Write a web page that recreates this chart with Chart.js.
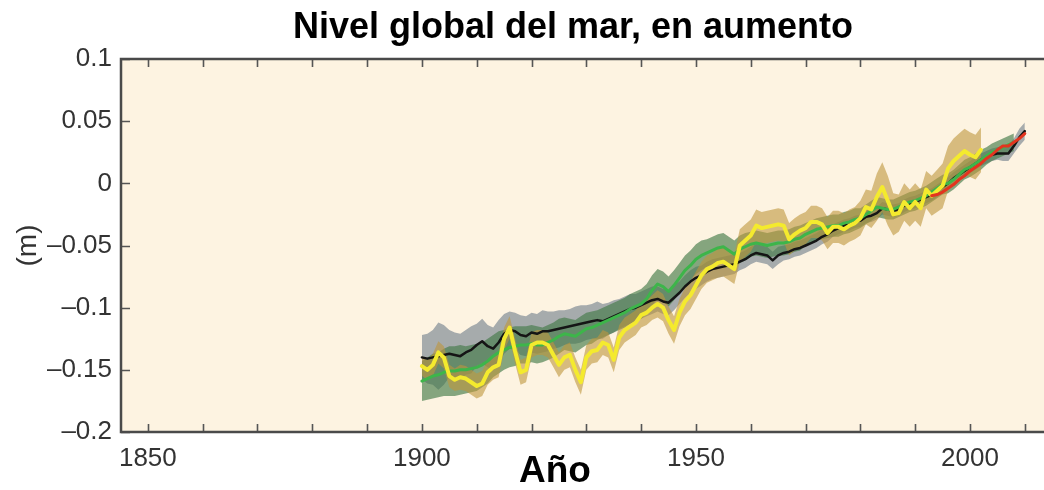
<!DOCTYPE html>
<html>
<head>
<meta charset="utf-8">
<title>Nivel global del mar, en aumento</title>
<script src="https://cdn.jsdelivr.net/npm/chart.js@4/dist/chart.umd.min.js"></script>
<style>
  html, body { margin: 0; padding: 0; background: #ffffff; }
  canvas { display: block; }
</style>
</head>
<body>
<canvas id="chart" width="1044" height="490"></canvas>
<script>
// ---- Sea-level reconstructions (m), one value per year ----
const blackStart = 1900;
const blackSeries = [
  -0.140,-0.141,-0.140,-0.139,-0.138,-0.137,-0.138,-0.139,-0.136,-0.134,
  -0.130,-0.127,-0.131,-0.133,-0.128,-0.121,-0.118,-0.119,-0.122,-0.123,
  -0.120,-0.121,-0.119,-0.119,-0.118,-0.117,-0.116,-0.115,-0.114,-0.113,
  -0.112,-0.111,-0.110,-0.111,-0.109,-0.107,-0.105,-0.103,-0.101,-0.100,
  -0.098,-0.096,-0.094,-0.093,-0.095,-0.096,-0.092,-0.088,-0.083,-0.079,
  -0.076,-0.074,-0.071,-0.069,-0.068,-0.067,-0.066,-0.065,-0.063,-0.061,
  -0.058,-0.056,-0.057,-0.058,-0.062,-0.058,-0.056,-0.055,-0.053,-0.052,
  -0.050,-0.048,-0.046,-0.043,-0.041,-0.038,-0.036,-0.034,-0.033,-0.031,
  -0.030,-0.027,-0.026,-0.024,-0.020,-0.021,-0.022,-0.021,-0.018,-0.016,
  -0.015,-0.013,-0.011,-0.009,-0.006,-0.003, 0.000, 0.004, 0.007, 0.010,
   0.013, 0.016, 0.019, 0.021, 0.023, 0.024, 0.024, 0.024, 0.030, 0.037, 0.042
];
const blackUncertainty = [
  0.018,0.020,0.022,0.027,0.024,0.019,0.018,0.018,0.018,0.019,
  0.017,0.018,0.017,0.017,0.018,0.016,0.015,0.015,0.016,0.016,
  0.016,0.016,0.017,0.016,0.015,0.015,0.014,0.014,0.015,0.015,
  0.014,0.014,0.015,0.014,0.013,0.013,0.012,0.012,0.012,0.011,
  0.011,0.011,0.011,0.010,0.010,0.010,0.010,0.009,0.009,0.009,
  0.009,0.008,0.008,0.008,0.008,0.008,0.008,0.008,0.007,0.007,
  0.007,0.007,0.007,0.007,0.007,0.007,0.006,0.006,0.006,0.006,
  0.006,0.006,0.006,0.006,0.006,0.005,0.005,0.005,0.005,0.005,
  0.005,0.005,0.005,0.005,0.005,0.005,0.005,0.005,0.005,0.005,
  0.005,0.005,0.005,0.005,0.005,0.005,0.005,0.005,0.005,0.005,
  0.005,0.005,0.005,0.005,0.005,0.005,0.006,0.006,0.006,0.007,0.007
];

const greenStart = 1900;
const greenSeries = [
  -0.159,-0.157,-0.155,-0.154,-0.152,-0.151,-0.151,-0.150,-0.150,-0.149,
  -0.148,-0.146,-0.143,-0.139,-0.136,-0.134,-0.132,-0.131,-0.130,-0.130,
  -0.129,-0.130,-0.130,-0.128,-0.126,-0.123,-0.121,-0.122,-0.123,-0.120,
  -0.117,-0.116,-0.114,-0.112,-0.110,-0.108,-0.106,-0.104,-0.101,-0.099,
  -0.097,-0.093,-0.086,-0.081,-0.083,-0.087,-0.082,-0.076,-0.070,-0.066,
  -0.061,-0.058,-0.056,-0.054,-0.052,-0.051,-0.054,-0.057,-0.053,-0.051,
  -0.049,-0.048,-0.049,-0.050,-0.049,-0.048,-0.048,-0.047,-0.045,-0.044,
  -0.041,-0.039,-0.037,-0.036,-0.035,-0.034,-0.034,-0.032,-0.031,-0.029,
  -0.028,-0.025,-0.022,-0.019,-0.020,-0.021,-0.021,-0.019,-0.017,-0.015,
  -0.014,-0.012,-0.010,-0.007,-0.004,-0.001, 0.000, 0.003, 0.007, 0.011,
   0.013, 0.016, 0.019, 0.022, 0.025, 0.027, 0.029, 0.031, 0.033
];
const greenUncertainty = [
  0.016,0.017,0.018,0.018,0.019,0.020,0.020,0.020,0.019,0.019,
  0.019,0.018,0.018,0.017,0.017,0.016,0.016,0.016,0.015,0.015,
  0.015,0.015,0.014,0.014,0.014,0.014,0.013,0.013,0.013,0.013,
  0.013,0.013,0.012,0.012,0.012,0.012,0.012,0.012,0.012,0.012,
  0.012,0.012,0.012,0.012,0.012,0.012,0.012,0.012,0.012,0.012,
  0.012,0.012,0.011,0.011,0.011,0.011,0.011,0.011,0.011,0.011,
  0.010,0.010,0.010,0.010,0.010,0.010,0.010,0.010,0.010,0.010,
  0.009,0.009,0.009,0.009,0.009,0.009,0.009,0.009,0.009,0.009,
  0.008,0.008,0.008,0.008,0.008,0.008,0.008,0.008,0.008,0.008,
  0.008,0.008,0.008,0.008,0.008,0.008,0.008,0.008,0.008,0.008,
  0.008,0.008,0.008,0.007,0.007,0.007,0.007,0.007,0.007
];

const yellowStart = 1900;
const yellowSeries = [
  -0.147,-0.150,-0.146,-0.136,-0.140,-0.155,-0.158,-0.156,-0.157,-0.160,
  -0.163,-0.161,-0.152,-0.148,-0.146,-0.125,-0.116,-0.135,-0.152,-0.150,
  -0.130,-0.128,-0.128,-0.130,-0.138,-0.146,-0.140,-0.138,-0.150,-0.160,
  -0.140,-0.135,-0.134,-0.128,-0.130,-0.142,-0.124,-0.118,-0.115,-0.112,
  -0.106,-0.104,-0.100,-0.097,-0.100,-0.110,-0.118,-0.104,-0.095,-0.090,
  -0.082,-0.074,-0.069,-0.067,-0.064,-0.063,-0.066,-0.069,-0.050,-0.046,
  -0.042,-0.034,-0.036,-0.035,-0.034,-0.033,-0.034,-0.045,-0.041,-0.038,
  -0.036,-0.031,-0.031,-0.033,-0.040,-0.035,-0.035,-0.037,-0.034,-0.032,
  -0.028,-0.019,-0.021,-0.011,-0.003,-0.014,-0.025,-0.024,-0.015,-0.020,
  -0.015,-0.020,-0.005,-0.010,-0.006,-0.002, 0.012, 0.018, 0.022, 0.026,
   0.023, 0.021, 0.027
];
const yellowUncertainty = [
  0.008,0.008,0.009,0.009,0.009,0.009,0.009,0.010,0.010,0.010,
  0.010,0.010,0.010,0.010,0.010,0.009,0.009,0.010,0.010,0.010,
  0.010,0.010,0.010,0.010,0.010,0.010,0.010,0.010,0.010,0.010,
  0.010,0.010,0.010,0.010,0.010,0.010,0.010,0.010,0.010,0.010,
  0.010,0.010,0.010,0.011,0.011,0.011,0.011,0.011,0.011,0.011,
  0.011,0.011,0.011,0.011,0.012,0.012,0.012,0.012,0.013,0.013,
  0.013,0.013,0.013,0.013,0.013,0.013,0.013,0.013,0.013,0.013,
  0.013,0.013,0.013,0.013,0.013,0.013,0.013,0.013,0.013,0.013,
  0.014,0.014,0.015,0.019,0.020,0.020,0.017,0.015,0.015,0.015,
  0.015,0.015,0.015,0.016,0.017,0.018,0.018,0.018,0.018,0.018,
  0.018,0.018,0.018
];

// Satellite altimetry
const redStart = 1993;
const redSeries = [
  -0.010,-0.009,-0.007,-0.004,-0.001, 0.003, 0.006, 0.010, 0.013, 0.016,
   0.020, 0.023, 0.027, 0.030, 0.030, 0.033, 0.036, 0.040
];

// ---- Axes ----
const xMin = 1845.1, xMax = 2013.5;
const xTickYears = [1850,1860,1870,1880,1890,1900,1910,1920,1930,1940,1950,1960,1970,1980,1990,2000,2010];
const xLabelYears = [1850, 1900, 1950, 2000];
const yTickValues = [-0.2, -0.15, -0.1, -0.05, 0, 0.05, 0.1];
const yTickLabels = ['\u20130.2', '\u20130.15', '\u20130.1', '\u20130.05', '0', '0.05', '0.1'];

const titleText = 'Nivel global del mar, en aumento';
const xTitleText = 'A\u00f1o';
const yTitleText = '(m)';

const tickFont = "'Liberation Sans Narrow', 'Liberation Sans', Arial, sans-serif";
const boldFont = "'Liberation Sans', Arial, sans-serif";

const points = (start, vals) => vals.map((v, i) => ({ x: start + i, y: v }));
const bandEdge = (start, vals, err, sign) => vals.map((v, i) => ({ x: start + i, y: v + sign * err[i] }));

function line(label, data, color, width, order) {
  return { label, data, borderColor: color, borderWidth: width, fill: false, order,
           borderJoinStyle: 'round', borderCapStyle: 'round' };
}
function bandPair(label, start, vals, err, color, order) {
  return [
    { label: label + ' +', data: bandEdge(start, vals, err, 1), borderWidth: 0,
      borderColor: 'rgba(0,0,0,0)', backgroundColor: color, fill: '+1', order },
    { label: label + ' -', data: bandEdge(start, vals, err, -1), borderWidth: 0,
      borderColor: 'rgba(0,0,0,0)', fill: false, order }
  ];
}

const framePlugin = {
  id: 'frame',
  beforeDraw(chart) {
    const { ctx, chartArea: a } = chart;
    ctx.save();
    ctx.fillStyle = '#ffffff';
    ctx.fillRect(0, 0, chart.width, chart.height);
    ctx.fillStyle = '#FDF3E1';
    ctx.fillRect(a.left, a.top, a.right - a.left, a.bottom - a.top);
    ctx.restore();
  },
  afterDatasetsDraw(chart) {
    const { ctx, chartArea: a, scales: { x, y } } = chart;
    ctx.save();
    ctx.strokeStyle = '#555555';
    ctx.lineWidth = 1.6;
    ctx.beginPath();
    x.ticks.forEach(t => {
      const px = Math.round(x.getPixelForValue(t.value)) + 0.5;
      ctx.moveTo(px, a.bottom); ctx.lineTo(px, a.bottom - 8);
      ctx.moveTo(px, a.top); ctx.lineTo(px, a.top + 8);
    });
    y.ticks.forEach(t => {
      const py = Math.round(y.getPixelForValue(t.value)) + 0.5;
      ctx.moveTo(a.left, py); ctx.lineTo(a.left + 9, py);
    });
    ctx.stroke();
    ctx.strokeStyle = '#4a4a4a';
    ctx.lineWidth = 2.5;
    ctx.beginPath();
    ctx.moveTo(a.right + 4, a.top);
    ctx.lineTo(a.left, a.top);
    ctx.lineTo(a.left, a.bottom);
    ctx.lineTo(a.right + 4, a.bottom);
    ctx.stroke();
    ctx.restore();
  },
  afterDraw(chart) {
    const { ctx } = chart;
    ctx.save();
    ctx.fillStyle = '#000000';
    ctx.textAlign = 'center';
    ctx.textBaseline = 'alphabetic';
    ctx.font = 'bold 36px ' + boldFont;
    ctx.fillText(titleText, 573, 38);
    ctx.font = 'bold 37px ' + boldFont;
    ctx.fillText(xTitleText, 555, 482);
    ctx.restore();
  }
};

new Chart(document.getElementById('chart'), {
  type: 'line',
  data: {
    datasets: [
      line('Altimetría', points(redStart, redSeries), '#E3341F', 3, 0),
      line('Serie amarilla', points(yellowStart, yellowSeries), '#F4EA2E', 4, 1),
      line('Serie verde', points(greenStart, greenSeries), '#3DB54A', 3, 2),
      line('Serie negra', points(blackStart, blackSeries), '#151515', 2.5, 3),
      ...bandPair('Incertidumbre amarilla', yellowStart, yellowSeries, yellowUncertainty, 'rgba(190,150,60,0.6)', 4),
      ...bandPair('Incertidumbre verde', greenStart, greenSeries, greenUncertainty, 'rgba(65,120,70,0.64)', 5),
      ...bandPair('Incertidumbre negra', blackStart, blackSeries, blackUncertainty, 'rgba(128,140,150,0.7)', 6)
    ]
  },
  options: {
    responsive: false,
    animation: false,
    devicePixelRatio: 1,
    layout: { padding: { top: 59, right: 0, bottom: 0, left: 0 } },
    elements: { point: { radius: 0, hoverRadius: 0 }, line: { tension: 0 } },
    plugins: { legend: { display: false }, tooltip: { enabled: false }, title: { display: false } },
    scales: {
      x: {
        type: 'linear',
        min: xMin, max: xMax,
        grid: { display: false, drawTicks: false },
        border: { display: false },
        afterBuildTicks: s => { s.ticks = xTickYears.map(v => ({ value: v })); },
        afterFit: s => { s.height = 58; },
        ticks: {
          autoSkip: false, maxRotation: 0, padding: 11,
          color: '#333333',
          font: { family: tickFont, size: 26 },
          callback: v => (xLabelYears.includes(v) ? String(v) : '')
        }
      },
      y: {
        type: 'linear',
        min: -0.2, max: 0.1,
        grid: { display: false, drawTicks: false },
        border: { display: false },
        afterBuildTicks: s => { s.ticks = yTickValues.map(v => ({ value: v })); },
        afterFit: s => { s.width = 121; },
        ticks: {
          padding: 9,
          color: '#333333',
          font: { family: tickFont, size: 26 },
          callback: v => yTickLabels[yTickValues.indexOf(v)]
        },
        title: {
          display: true, text: yTitleText, color: '#333333',
          font: { family: tickFont, size: 28 },
          padding: { top: 11, bottom: 0 }
        }
      }
    }
  },
  plugins: [framePlugin]
});
</script>
</body>
</html>
